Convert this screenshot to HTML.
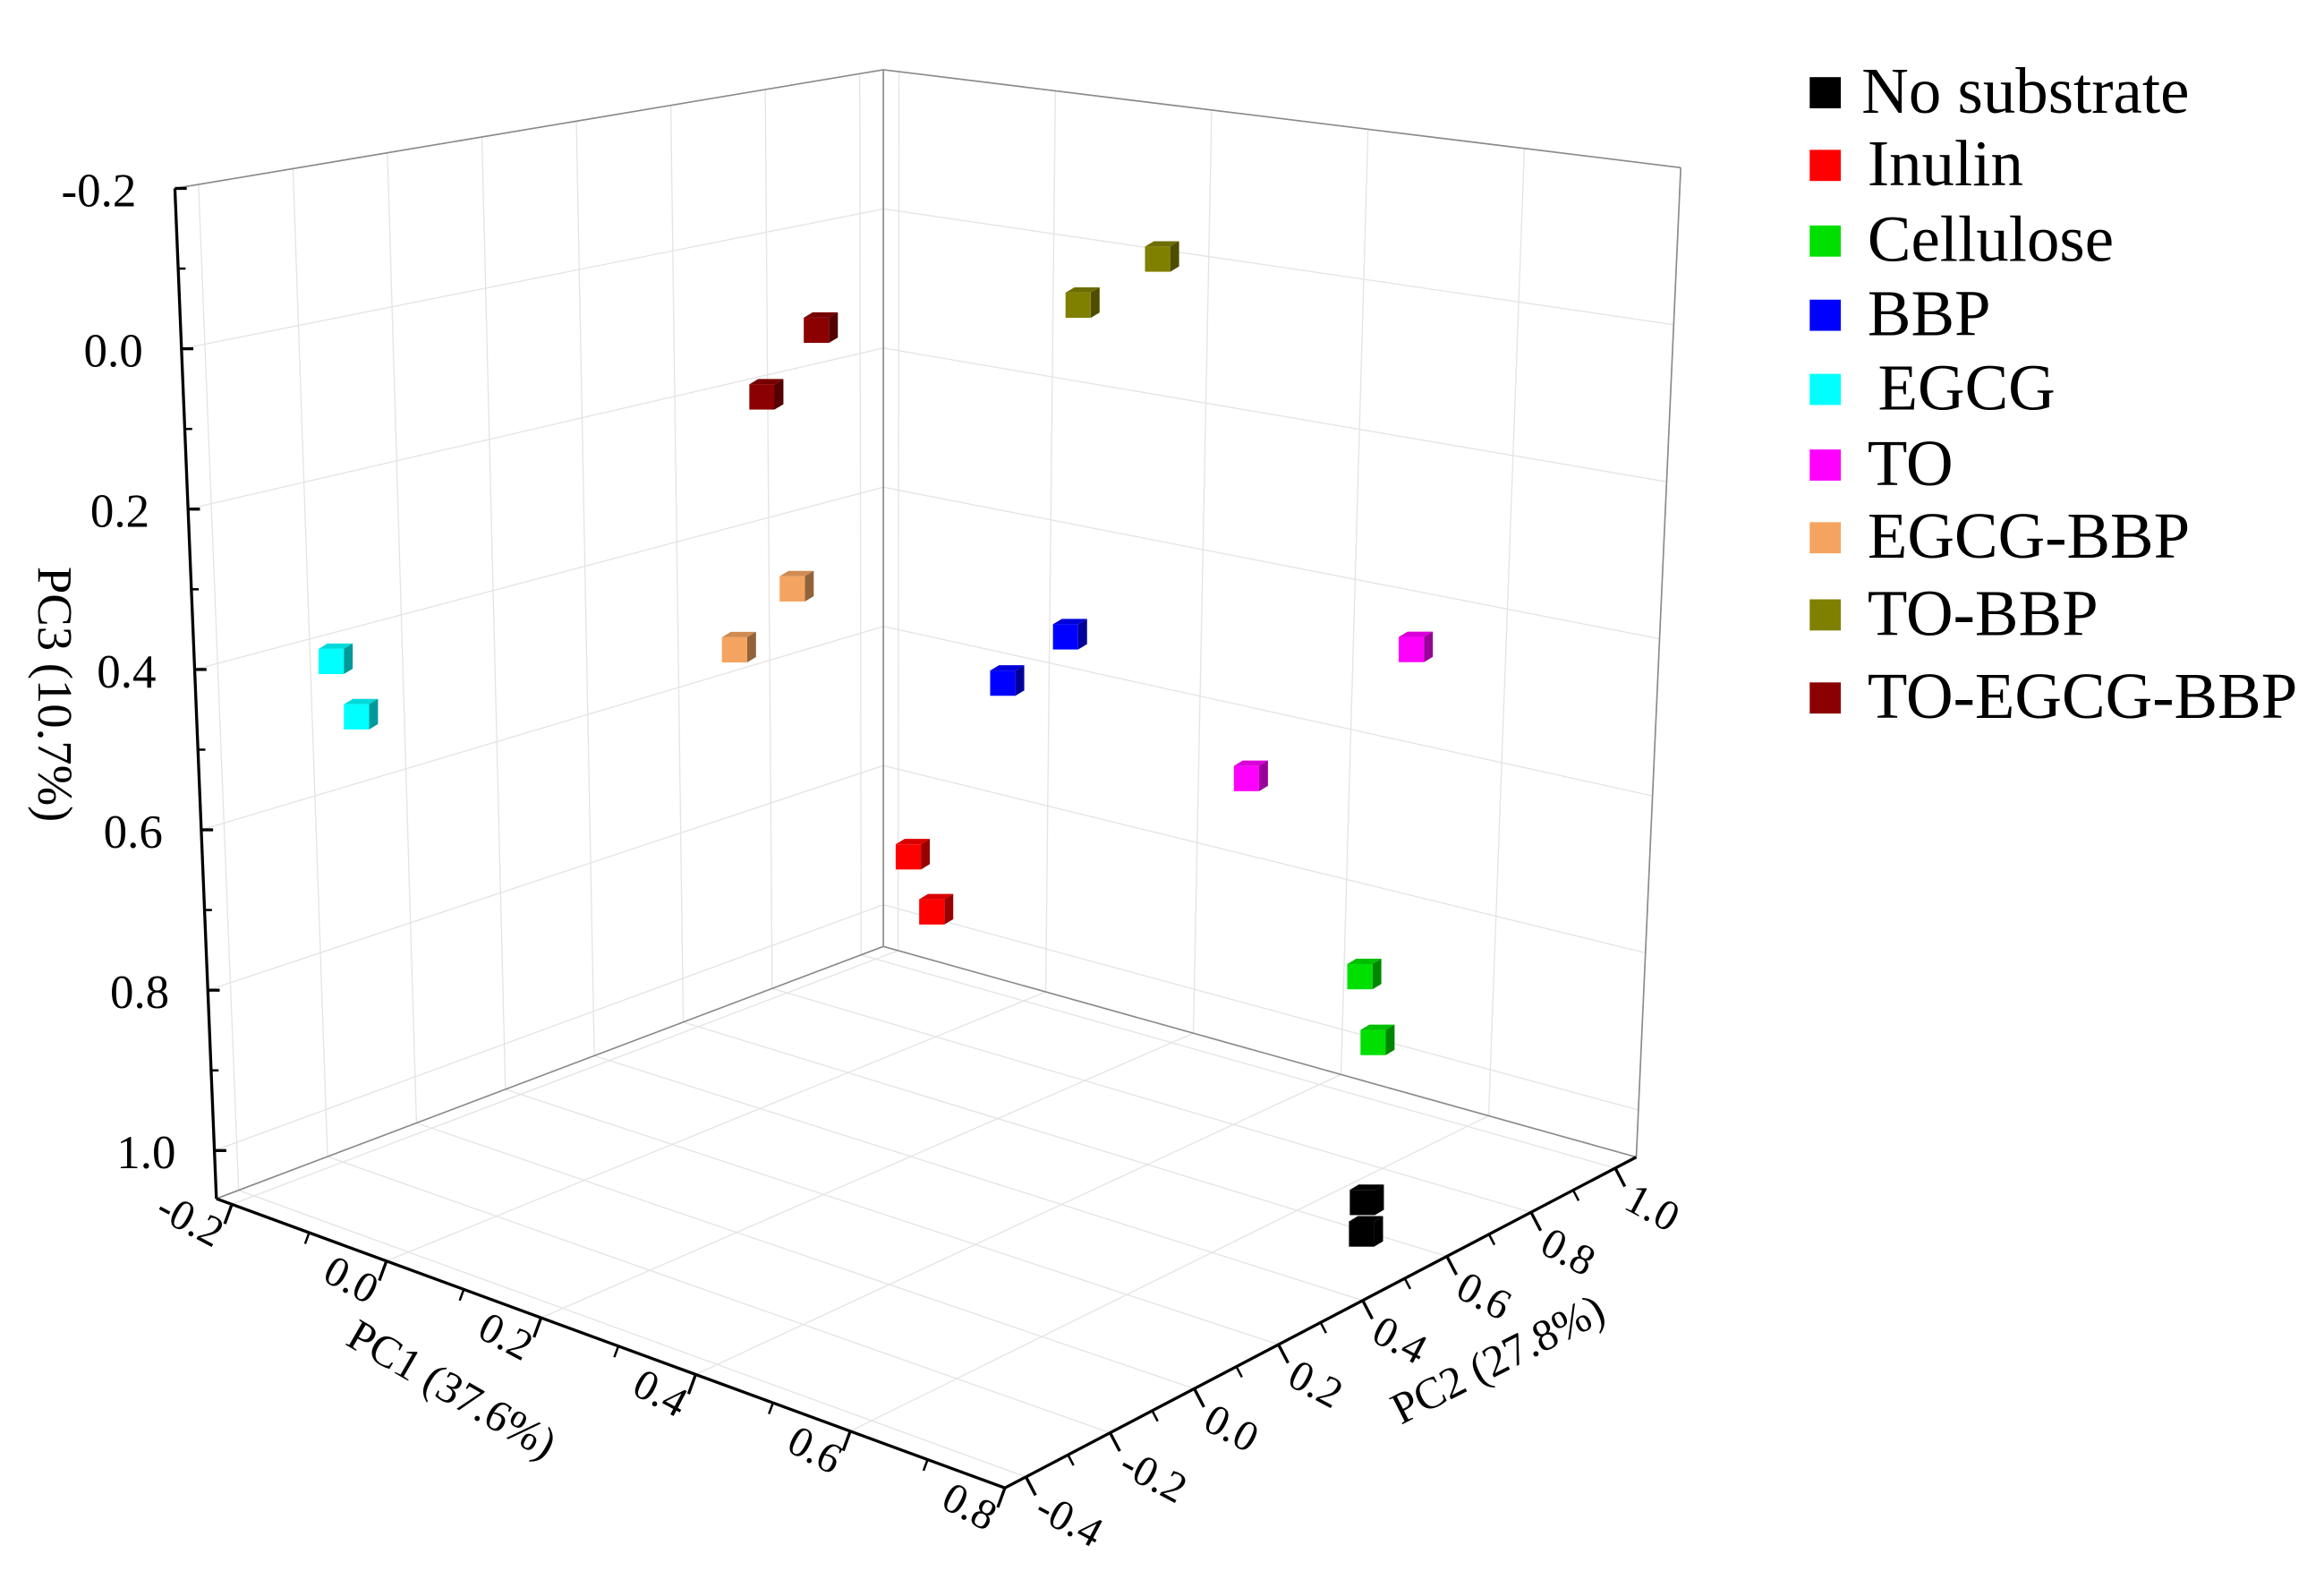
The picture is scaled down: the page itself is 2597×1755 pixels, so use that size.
<!DOCTYPE html>
<html><head><meta charset="utf-8"><style>
html,body{margin:0;padding:0;background:#fff;}
svg{display:block;}
text{font-family:"Liberation Serif",serif;fill:#000;}
</style></head><body>
<svg id="chart" width="2597" height="1755" viewBox="0 0 1568 1059" preserveAspectRatio="none" xmlns="http://www.w3.org/2000/svg">
<g id="grid"></g>
<g id="frame"></g>
<g id="axes"></g>
<g id="marks"></g>
<g id="legend"></g>
</svg>
<script>
const groups = ["No substrate","Inulin","Cellulose","BBP","EGCG","TO","EGCG-BBP","TO-BBP","TO-EGCG-BBP"];
const colors = ["#000000","#ff0000","#00e000","#0000ff","#00ffff","#ff00ff","#f4a460","#808000","#8b0000"];
const pc1Values = [[0.69,0.69],[0.43,0.46],[0.55,0.57],[0.38,0.46],[-0.13,-0.10],[0.44,0.65],[0.035,0.11],[0.30,0.40],[-0.015,0.055]];
const pc2Values = [[0.60,0.60],[0.0,0.0],[0.83,0.83],[0.30,0.30],[-0.30,-0.30],[0.75,0.75],[0.30,0.30],[0.60,0.60],[0.45,0.45]];
const pc3Values = [[1.02,1.06],[0.51,0.57],[0.83,0.91],[0.37,0.29],[0.38,0.44],[0.58,0.365],[0.42,0.32],[-0.04,-0.12],[0.125,0.02]];
const pc1Ticks = [-0.2,0.0,0.2,0.4,0.6,0.8];
const pc2Ticks = [-0.4,-0.2,0.0,0.2,0.4,0.6,0.8,1.0];
const pc3Ticks = [-0.2,0.0,0.2,0.4,0.6,0.8,1.0];
const pc1Labels = ["-0.2","0.0","0.2","0.4","0.6","0.8"];
const pc2Labels = ["-0.4","-0.2","0.0","0.2","0.4","0.6","0.8","1.0"];
const pc3Labels = ["-0.2","0.0","0.2","0.4","0.6","0.8","1.0"];

const PC1MIN=-0.22,PC1MAX=0.80,PC2MIN=-0.45,PC2MAX=1.05,ZTOP=-0.2,ZBOT=1.06;
const L=[146,808],F=[678,1003],R=[1104,780],B=[596,638];
const HL=681,HF=700,HR=667,HB=591;
function bil(a,b,c,d,u,v){return a*(1-u)*(1-v)+b*u*(1-v)+c*u*v+d*(1-u)*v;}
function projUVW(u,v,w){
  const x=bil(L[0],F[0],R[0],B[0],u,v), y=bil(L[1],F[1],R[1],B[1],u,v);
  const h=bil(HL,HF,HR,HB,u,v), dx=bil(-28,0,30,0,u,v);
  return [x+w*dx, y-w*h];
}
const uOf=p=>(p-PC1MIN)/(PC1MAX-PC1MIN);
const vOf=p=>(p-PC2MIN)/(PC2MAX-PC2MIN);
const wOf=p=>(ZBOT-p)/(ZBOT-ZTOP);
function proj(a,b,c){return projUVW(uOf(a),vOf(b),wOf(c));}
const NS="http://www.w3.org/2000/svg";
function mk(tag,attrs,parent){const e=document.createElementNS(NS,tag);for(const k in attrs)e.setAttribute(k,attrs[k]);parent.appendChild(e);return e;}
function line(p,q,stroke,sw,parent){return mk('line',{x1:p[0],y1:p[1],x2:q[0],y2:q[1],stroke:stroke,'stroke-width':sw},parent);}

const grid=document.getElementById('grid');
const GC="#e4e4e4";
pc3Ticks.forEach(z=>{const w=wOf(z);
  const gl=line(projUVW(0,0,w),projUVW(0,1,w),GC,0.8,grid);
  
  
  const gb=line(projUVW(0,1,w),projUVW(1,1,w),GC,0.8,grid);
  
  
});
pc2Ticks.forEach(t=>{const v=vOf(t);
  const g1=line(projUVW(0,v,0),projUVW(0,v,1),GC,0.8,grid);
  
  
  const g2=line(projUVW(0,v,0),projUVW(1,v,0),GC,0.8,grid);
  
  
});
pc1Ticks.forEach(t=>{const u=uOf(t);
  const g1=line(projUVW(u,1,0),projUVW(u,1,1),GC,0.8,grid);
  
  
  const g2=line(projUVW(u,0,0),projUVW(u,1,0),GC,0.8,grid);
  
  
});

const frame=document.getElementById('frame');
const FC="#8a8a8a";
[[[0,1,0],[0,1,1]],[[1,1,0],[1,1,1]],[[0,0,1],[0,1,1]],[[0,1,1],[1,1,1]],[[0,1,0],[1,1,0]],[[0,1,0],[0,0,0]]].forEach(s=>{
  const e=line(projUVW(...s[0]),projUVW(...s[1]),FC,1,frame);
  
  
});

const axes=document.getElementById('axes');
const za=line(projUVW(0,0,0),projUVW(0,0,1),"#000",2,axes);


pc3Ticks.forEach((z,i)=>{const p=projUVW(0,0,wOf(z));
  const t=line(p,[p[0]+8,p[1]],"#000",2,axes);
  
  
  if(i<pc3Ticks.length-1){const m=projUVW(0,0,wOf(z+0.1));
    const mt=line(m,[m[0]+5,m[1]],"#000",1.5,axes);
    
    }
  const tx=mk('text',{x:p[0]-26,y:p[1]+12,'text-anchor':'end','font-size':32},axes);
  tx.textContent=pc3Labels[i];
  
  
});
const zt=mk('text',{x:0,y:0,'text-anchor':'middle','font-size':33,transform:'translate(26,468) rotate(90)'},axes);
zt.textContent="PC3 (10.7%)";


const xa=line(projUVW(0,0,0),projUVW(1,0,0),"#000",2,axes);


const n1=[-0.344,0.939];
pc1Ticks.forEach((t,i)=>{const p=proj(t,PC2MIN,ZBOT);
  const tk=line(p,[p[0]+n1[0]*14,p[1]+n1[1]*14],"#000",2,axes);
  
  
  if(i<pc1Ticks.length-1){const m=proj(t+0.1,PC2MIN,ZBOT);
    const mt=line(m,[m[0]+n1[0]*8,m[1]+n1[1]*8],"#000",1.5,axes);
    
    }
  const lx=p[0]+n1[0]*22, ly=p[1]+n1[1]*22;
  const tx=mk('text',{x:0,y:0,'text-anchor':'end','font-size':29,transform:`translate(${lx},${ly}) rotate(28) translate(0,10)`},axes);
  tx.textContent=pc1Labels[i];
  
  
});
const xt=mk('text',{x:0,y:0,'text-anchor':'middle','font-size':30,transform:'translate(300,945) rotate(30)'},axes);
xt.textContent="PC1 (37.6%)";


const ya=line(projUVW(1,0,0),projUVW(1,1,0),"#000",2,axes);


const n2=[0.464,0.886];
pc2Ticks.forEach((t,i)=>{const p=proj(PC1MAX,t,ZBOT);
  const tk=line(p,[p[0]+n2[0]*14,p[1]+n2[1]*14],"#000",2,axes);
  
  
  if(i<pc2Ticks.length-1){const m=proj(PC1MAX,t+0.1,ZBOT);
    const mt=line(m,[m[0]+n2[0]*8,m[1]+n2[1]*8],"#000",1.5,axes);
    
    }
  const lx=p[0]+n2[0]*20, ly=p[1]+n2[1]*20;
  const tx=mk('text',{x:0,y:0,'text-anchor':'start','font-size':29,transform:`translate(${lx},${ly}) rotate(28) translate(0,10)`},axes);
  tx.textContent=pc2Labels[i];
  
  
});
const yt=mk('text',{x:0,y:0,'text-anchor':'middle','font-size':30,transform:'translate(1015,925) rotate(-27)'},axes);
yt.textContent="PC2 (27.8%)";



function shade(hex,f){const n=parseInt(hex.slice(1),16);let r=n>>16,g=(n>>8)&255,b=n&255;
  if(f<1){r*=f;g*=f;b*=f;}else{r+=(255-r)*(f-1);g+=(255-g)*(f-1);b+=(255-b)*(f-1);}
  return `rgb(${Math.round(r)},${Math.round(g)},${Math.round(b)})`;}
const marks=document.getElementById('marks');
groups.forEach((gname,gi)=>{
  pc1Values[gi].forEach((a,j)=>{
    const p=proj(a,pc2Values[gi][j],pc3Values[gi][j]);
    const s=17,x=p[0]-s/2-2,y=p[1]-s/2+2,d=6;
    const g=mk('g',{},marks);
    
    
    mk('polygon',{points:`${x},${y} ${x+d},${y-d*0.6} ${x+s+d},${y-d*0.6} ${x+s},${y}`,fill:shade(colors[gi],0.85)},g);
    mk('polygon',{points:`${x+s},${y} ${x+s+d},${y-d*0.6} ${x+s+d},${y+s-d*0.6} ${x+s},${y+s}`,fill:shade(colors[gi],0.6)},g);
    mk('rect',{x:x,y:y,width:s,height:s,fill:colors[gi]},g);
  });
});

const legend=document.getElementById('legend');
const legY=[62,111,162,212,262,313,362,414,470];
groups.forEach((gname,i)=>{
  const g=mk('g',{},legend);
  
  
  mk('rect',{x:1221,y:legY[i]-10,width:21,height:21,fill:colors[i]},g);
  const t=mk('text',{x:i==0?1256:(i==4?1267:1260),y:legY[i]+14,'font-size':44},g);
  t.textContent=gname;
});
</script>
</body></html>
